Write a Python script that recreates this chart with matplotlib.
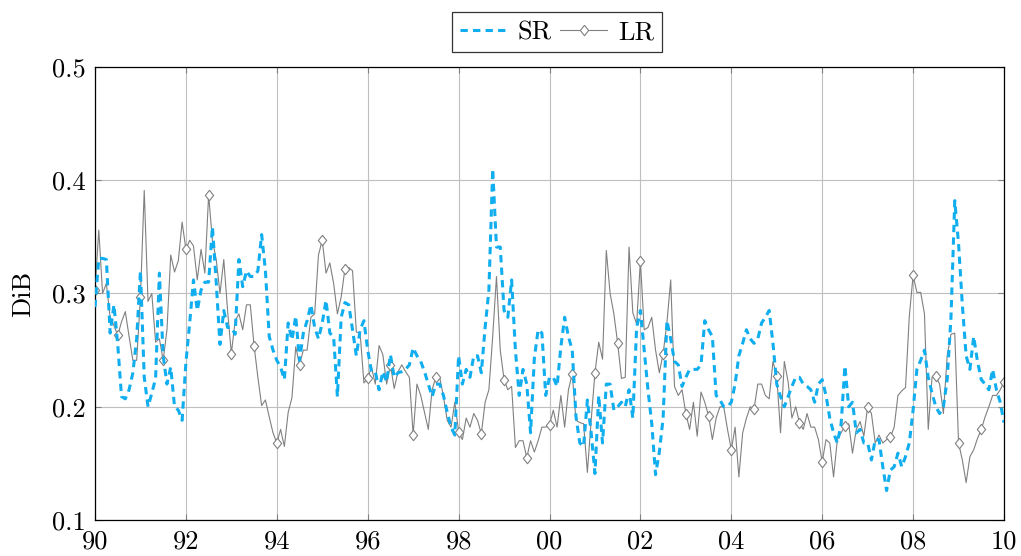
import numpy as np
import matplotlib
matplotlib.use("Agg")
import matplotlib.pyplot as plt

# Monthly series, Jan 1990 .. Jan 2010 (241 values each)
START_YEAR = 1990
SR = [
    0.288, 0.331, 0.331, 0.330, 0.265, 0.290, 0.255, 0.209, 0.207, 0.215, 0.230, 0.260,
    0.320, 0.226, 0.200, 0.212, 0.225, 0.318, 0.245, 0.220, 0.235, 0.200, 0.197, 0.188,
    0.239, 0.274, 0.312, 0.285, 0.303, 0.310, 0.310, 0.359, 0.310, 0.255, 0.285, 0.270,
    0.270, 0.264, 0.330, 0.306, 0.320, 0.315, 0.315, 0.320, 0.352, 0.320, 0.262, 0.250,
    0.241, 0.235, 0.224, 0.274, 0.259, 0.280, 0.241, 0.265, 0.276, 0.290, 0.270, 0.260,
    0.274, 0.294, 0.265, 0.262, 0.209, 0.279, 0.292, 0.290, 0.268, 0.245, 0.268, 0.276,
    0.250, 0.231, 0.231, 0.215, 0.231, 0.222, 0.246, 0.226, 0.230, 0.231, 0.233, 0.237,
    0.252, 0.245, 0.240, 0.231, 0.220, 0.209, 0.220, 0.220, 0.210, 0.195, 0.182, 0.175,
    0.245, 0.220, 0.233, 0.226, 0.245, 0.245, 0.230, 0.270, 0.303, 0.410, 0.341, 0.341,
    0.285, 0.279, 0.312, 0.250, 0.210, 0.233, 0.220, 0.177, 0.243, 0.268, 0.265, 0.210,
    0.226, 0.226, 0.218, 0.253, 0.279, 0.262, 0.250, 0.191, 0.168, 0.165, 0.206, 0.177,
    0.141, 0.210, 0.168, 0.220, 0.220, 0.197, 0.200, 0.204, 0.200, 0.215, 0.190, 0.270,
    0.285, 0.250, 0.215, 0.185, 0.140, 0.160, 0.190, 0.276, 0.260, 0.240, 0.237, 0.218,
    0.226, 0.233, 0.233, 0.233, 0.237, 0.276, 0.268, 0.262, 0.210, 0.206, 0.200, 0.200,
    0.204, 0.220, 0.245, 0.256, 0.268, 0.260, 0.256, 0.260, 0.274, 0.279, 0.285, 0.256,
    0.220, 0.209, 0.200, 0.209, 0.218, 0.226, 0.226, 0.220, 0.218, 0.215, 0.204, 0.220,
    0.224, 0.210, 0.190, 0.177, 0.168, 0.185, 0.236, 0.200, 0.204, 0.177, 0.180, 0.168,
    0.168, 0.153, 0.171, 0.171, 0.147, 0.126, 0.144, 0.147, 0.159, 0.147, 0.156, 0.168,
    0.197, 0.233, 0.241, 0.250, 0.226, 0.212, 0.200, 0.194, 0.200, 0.224, 0.279, 0.382,
    0.344, 0.290, 0.245, 0.233, 0.262, 0.240, 0.224, 0.220, 0.215, 0.233, 0.215, 0.204,
    0.186,
]
LR = [
    0.303, 0.356, 0.300, 0.309, 0.279, 0.272, 0.263, 0.275, 0.284, 0.262, 0.241, 0.241,
    0.297, 0.391, 0.293, 0.300, 0.257, 0.260, 0.241, 0.268, 0.334, 0.319, 0.329, 0.363,
    0.339, 0.347, 0.342, 0.312, 0.339, 0.318, 0.387, 0.347, 0.330, 0.300, 0.330, 0.285,
    0.247, 0.276, 0.282, 0.268, 0.290, 0.290, 0.254, 0.226, 0.201, 0.206, 0.191, 0.177,
    0.168, 0.180, 0.165, 0.195, 0.208, 0.253, 0.237, 0.250, 0.250, 0.279, 0.282, 0.334,
    0.347, 0.318, 0.327, 0.309, 0.282, 0.297, 0.322, 0.323, 0.320, 0.266, 0.265, 0.221,
    0.225, 0.235, 0.220, 0.254, 0.246, 0.220, 0.237, 0.216, 0.231, 0.237, 0.231, 0.226,
    0.175, 0.220, 0.210, 0.195, 0.180, 0.215, 0.226, 0.226, 0.209, 0.188, 0.182, 0.204,
    0.178, 0.171, 0.190, 0.182, 0.194, 0.188, 0.176, 0.204, 0.215, 0.262, 0.315, 0.250,
    0.224, 0.215, 0.218, 0.164, 0.170, 0.170, 0.155, 0.170, 0.160, 0.170, 0.182, 0.182,
    0.184, 0.197, 0.182, 0.210, 0.182, 0.215, 0.229, 0.188, 0.186, 0.185, 0.142, 0.188,
    0.230, 0.257, 0.242, 0.338, 0.300, 0.282, 0.256, 0.225, 0.226, 0.341, 0.283, 0.273,
    0.329, 0.268, 0.270, 0.279, 0.250, 0.230, 0.247, 0.274, 0.312, 0.218, 0.210, 0.215,
    0.194, 0.180, 0.204, 0.174, 0.213, 0.204, 0.192, 0.171, 0.190, 0.200, 0.200, 0.180,
    0.162, 0.182, 0.138, 0.177, 0.190, 0.200, 0.198, 0.220, 0.220, 0.210, 0.207, 0.240,
    0.227, 0.177, 0.240, 0.222, 0.190, 0.200, 0.186, 0.180, 0.194, 0.182, 0.182, 0.171,
    0.151, 0.171, 0.168, 0.138, 0.171, 0.177, 0.183, 0.185, 0.159, 0.180, 0.187, 0.174,
    0.200, 0.194, 0.168, 0.175, 0.168, 0.171, 0.173, 0.182, 0.210, 0.214, 0.217, 0.280,
    0.316, 0.301, 0.301, 0.282, 0.180, 0.226, 0.227, 0.220, 0.194, 0.245, 0.264, 0.265,
    0.168, 0.153, 0.133, 0.156, 0.162, 0.172, 0.180, 0.191, 0.200, 0.210, 0.210, 0.215,
    0.222,
]
X_TICKS = [1990, 1992, 1994, 1996, 1998, 2000, 2002, 2004, 2006, 2008, 2010]
X_TICK_LABELS = ["90", "92", "94", "96", "98", "00", "02", "04", "06", "08", "10"]
Y_TICKS = [0.1, 0.2, 0.3, 0.4, 0.5]
Y_TICK_LABELS = ["0.1", "0.2", "0.3", "0.4", "0.5"]

FONT_SIZE = 19

plt.rcParams['font.family'] = ['cmr10', 'DejaVu Serif']
plt.rcParams['axes.formatter.use_mathtext'] = True
plt.rcParams['font.size'] = FONT_SIZE

# time axis in fractional years
x = START_YEAR + np.arange(len(SR)) / 12.0

fig = plt.figure(figsize=(10.21, 5.56), dpi=100)
ax = fig.add_axes([95 / 1021, 1 - 520 / 556, 909 / 1021, 453 / 556])

# diamond, a bit taller than wide
diamond = [(0, 1), (0.8, 0), (0, -1), (-0.8, 0), (0, 1)]

ax.plot(x, SR, color='#10aeef', linewidth=2.2, linestyle=(0, (2.4, 1.7)), label='SR', zorder=3)
ax.plot(x, LR, color='#808080', linewidth=0.8, marker=diamond, markersize=7.5,
        markevery=6, markerfacecolor='white', markeredgecolor='#808080',
        markeredgewidth=0.8, label='LR', zorder=2)

ax.set_xlim(1990, 2010)
ax.set_ylim(0.1, 0.5)
ax.set_xticks(X_TICKS)
ax.set_xticklabels(X_TICK_LABELS)
ax.set_yticks(Y_TICKS)
ax.set_yticklabels(Y_TICK_LABELS)
ax.set_ylabel("DiB", labelpad=12)

ax.grid(True, color='#bfbfbf', linewidth=0.8)
ax.set_axisbelow(True)
ax.tick_params(direction='in', length=4, width=0.8, color='#808080',
               top=True, right=True, labelsize=FONT_SIZE, pad=7)
for sp in ax.spines.values():
    sp.set_linewidth(0.9)
    sp.set_color('black')

leg = ax.legend(loc='lower center', bbox_to_anchor=(0.508, 1.033), ncol=2,
                frameon=True, fancybox=False, edgecolor='black', fontsize=FONT_SIZE,
                handlelength=1.8, handletextpad=0.4, columnspacing=0.3,
                borderpad=0.3, borderaxespad=0.0)
leg.get_frame().set_linewidth(0.9)

fig.savefig("out.png", dpi=100)
